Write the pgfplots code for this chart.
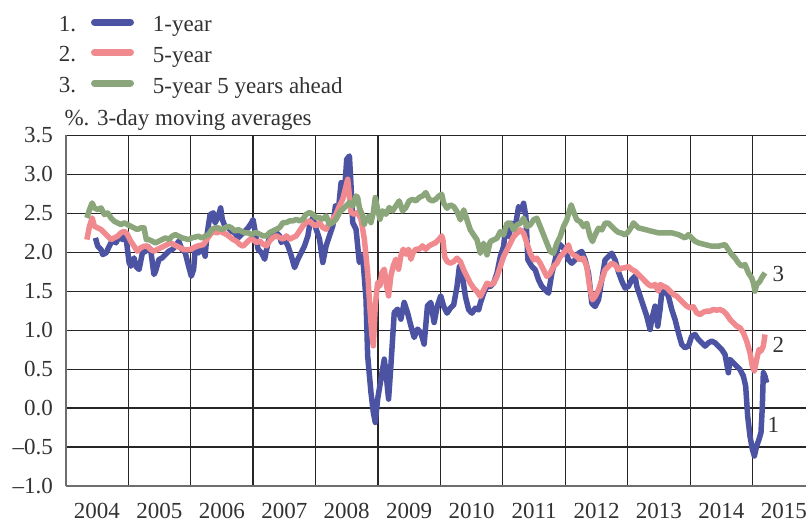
\documentclass[border=0pt]{standalone}
\usepackage{fontspec}
\setmainfont{Liberation Serif}
\usepackage{pgfplots}
\pgfplotsset{compat=1.18}
\definecolor{cblue}{RGB}{75,83,162}
\definecolor{cpink}{RGB}{240,138,143}
\definecolor{cgreen}{RGB}{139,166,122}
\definecolor{txt}{RGB}{50,50,50}
\definecolor{axg}{RGB}{110,110,110}
\pgfplotsset{
 leg1/.style={legend image code/.code={\node[anchor=base east,inner sep=0pt,text=txt] at (-12pt,-5pt) {1.}; \draw[cblue,line width=7pt,line cap=round] (3.5pt,4pt) -- (39.5pt,4pt);}},
 leg2/.style={legend image code/.code={\node[anchor=base east,inner sep=0pt,text=txt] at (-12pt,-5pt) {2.}; \draw[cpink,line width=7pt,line cap=round] (3.5pt,4pt) -- (39.5pt,4pt);}},
 leg3/.style={legend image code/.code={\node[anchor=base east,inner sep=0pt,text=txt] at (-12pt,-5pt) {3.}; \draw[cgreen,line width=7pt,line cap=round] (3.5pt,4pt) -- (39.5pt,4pt);}},
}
\begin{document}
\fontsize{23}{27}\selectfont
\begin{tikzpicture}
\path[use as bounding box] (0pt,0pt) rectangle (806pt,523pt);
\begin{axis}[
 name=ax,
 at={(65.7pt,37pt)}, anchor=south west,
 scale only axis, width=740.3pt, height=350.7pt,
 xmin=2004, xmax=2015.854, ymin=-1, ymax=3.5,
 axis x line*=bottom, axis y line*=left,
 axis line style={draw=axg, line width=2pt, -},
 xtick={2004.5,2005.5,2006.5,2007.5,2008.5,2009.5,2010.5,2011.5,2012.5,2013.5,2014.5,2015.5},
 xticklabels={2004,2005,2006,2007,2008,2009,2010,2011,2012,2013,2014,2015},
 minor xtick={2004,2005,2006,2007,2008,2009,2010,2011,2012,2013,2014,2015},
 xmajorgrids=false, xminorgrids=true,
 ytick={-1,-0.5,0,0.5,1,1.5,2,2.5,3,3.5},
 yticklabels={–1.0,–0.5,0.0,0.5,1.0,1.5,2.0,2.5,3.0,3.5},
 ymajorgrids=true,
 major tick length=0pt, minor tick length=0pt,
 grid style={draw=black!85, line width=1.2pt},
 minor grid style={draw=black!85, line width=1.2pt},
 xticklabel style={inner sep=0pt, anchor=north, yshift=-17pt, text=txt},
 yticklabel style={inner sep=0pt, anchor=east, xshift=-12.7pt, text=txt},
 legend style={at={(axis description cs:-0.0134,1.350)}, anchor=north west, draw=none, fill=none, text=txt,
   row sep=7.7pt, /tikz/every odd column/.append style={column sep=17pt}},
 legend cell align=left,
 clip=true,
]
\addplot[cblue, line width=5.5pt, line join=round, leg1] coordinates {
(2004.476,2.184)(2004.513,2.077)(2004.566,2.034)(2004.593,1.970)(2004.646,1.991)(2004.698,2.077)
(2004.751,2.162)(2004.804,2.120)(2004.857,2.205)(2004.910,2.162)(2004.963,2.226)(2004.989,2.034)
(2005.016,1.863)(2005.042,1.821)(2005.095,1.927)(2005.122,1.821)(2005.175,1.778)(2005.228,1.991)
(2005.280,2.013)(2005.307,2.077)(2005.360,2.034)(2005.413,1.714)(2005.439,1.756)(2005.492,1.906)
(2005.545,1.927)(2005.598,1.970)(2005.651,2.013)(2005.704,2.034)(2005.757,2.077)(2005.810,2.141)
(2005.862,2.034)(2005.915,1.991)(2005.968,1.821)(2006.011,1.692)(2006.048,1.778)(2006.074,2.034)
(2006.127,1.991)(2006.180,2.077)(2006.233,1.949)(2006.259,2.205)(2006.312,2.483)(2006.365,2.504)
(2006.392,2.376)(2006.444,2.462)(2006.481,2.568)(2006.508,2.419)(2006.550,2.333)(2006.603,2.312)
(2006.656,2.269)(2006.709,2.248)(2006.762,2.184)(2006.815,2.226)(2006.868,2.269)(2006.921,2.312)
(2006.974,2.376)(2007.000,2.419)(2007.027,2.295)(2007.080,2.038)(2007.133,1.996)(2007.186,1.910)
(2007.239,2.124)(2007.293,2.252)(2007.346,2.274)(2007.426,2.209)(2007.452,2.124)(2007.505,2.167)
(2007.559,2.081)(2007.612,1.953)(2007.665,1.803)(2007.718,1.910)(2007.771,1.996)(2007.824,2.081)
(2007.878,2.209)(2007.904,2.338)(2007.957,2.444)(2008.011,2.295)(2008.064,2.167)(2008.117,1.868)
(2008.170,2.081)(2008.223,2.209)(2008.277,2.338)(2008.319,2.594)(2008.356,2.466)(2008.410,2.893)
(2008.463,2.765)(2008.500,3.192)(2008.543,3.235)(2008.569,2.850)(2008.596,2.380)(2008.649,2.295)
(2008.702,1.868)(2008.755,1.953)(2008.809,1.397)(2008.835,0.671)(2008.888,0.201)(2008.926,-0.056)
(2008.957,-0.184)(2008.995,0.115)(2009.048,0.372)(2009.101,0.628)(2009.128,0.457)(2009.170,0.115)
(2009.207,0.543)(2009.261,1.226)(2009.314,1.269)(2009.367,1.141)(2009.420,1.355)(2009.473,1.226)
(2009.527,1.056)(2009.580,0.906)(2009.633,1.013)(2009.686,0.970)(2009.739,0.821)(2009.793,1.312)
(2009.846,1.355)(2009.899,1.098)(2009.952,1.312)(2010.005,1.440)(2010.053,1.303)(2010.107,1.218)
(2010.160,1.282)(2010.213,1.325)(2010.266,1.560)(2010.304,1.816)(2010.346,1.731)(2010.400,1.432)
(2010.453,1.261)(2010.506,1.218)(2010.559,1.282)(2010.613,1.261)(2010.639,1.346)(2010.693,1.474)
(2010.746,1.560)(2010.799,1.560)(2010.852,1.603)(2010.906,1.731)(2010.959,1.944)(2011.012,2.073)
(2011.039,2.286)(2011.092,2.201)(2011.145,2.372)(2011.199,2.329)(2011.252,2.585)(2011.295,2.543)
(2011.332,2.628)(2011.369,2.457)(2011.401,1.902)(2011.465,1.816)(2011.518,1.774)(2011.572,1.645)
(2011.625,1.560)(2011.678,1.517)(2011.731,1.474)(2011.785,1.731)(2011.838,1.902)(2011.891,2.115)
(2011.945,2.073)(2011.998,2.030)(2012.051,1.902)(2012.104,1.859)(2012.158,1.902)(2012.211,1.987)
(2012.264,2.009)(2012.318,1.902)(2012.371,1.731)(2012.424,1.346)(2012.477,1.303)(2012.531,1.389)
(2012.584,1.645)(2012.637,1.902)(2012.690,1.944)(2012.744,1.987)(2012.797,1.902)(2012.850,1.750)
(2012.904,1.630)(2012.957,1.540)(2013.010,1.560)(2013.064,1.650)(2013.117,1.692)(2013.144,1.564)
(2013.197,1.436)(2013.251,1.308)(2013.304,1.179)(2013.357,1.009)(2013.384,1.137)(2013.437,1.308)
(2013.480,1.051)(2013.517,1.265)(2013.544,1.479)(2013.597,1.500)(2013.651,1.436)(2013.704,1.265)
(2013.757,1.137)(2013.811,0.966)(2013.864,0.816)(2013.917,0.774)(2013.971,0.795)(2014.024,0.923)
(2014.077,0.944)(2014.131,0.880)(2014.184,0.838)(2014.237,0.795)(2014.291,0.838)(2014.344,0.859)
(2014.397,0.838)(2014.451,0.795)(2014.504,0.752)(2014.557,0.688)(2014.611,0.453)(2014.637,0.624)
(2014.691,0.581)(2014.744,0.538)(2014.797,0.496)(2014.851,0.410)(2014.888,0.282)(2014.920,-0.103)
(2014.957,-0.359)(2014.995,-0.530)(2015.027,-0.615)(2015.064,-0.487)(2015.101,-0.402)(2015.133,-0.316)
(2015.155,0.026)(2015.171,0.453)(2015.197,0.410)(2015.224,0.325)
};
\addplot[cpink, line width=5.5pt, line join=round, leg2] coordinates {
(2004.339,2.162)(2004.381,2.333)(2004.423,2.440)(2004.460,2.333)(2004.513,2.312)(2004.566,2.291)
(2004.619,2.248)(2004.672,2.205)(2004.725,2.162)(2004.778,2.184)(2004.831,2.205)(2004.884,2.248)
(2004.937,2.269)(2004.989,2.226)(2005.042,2.141)(2005.095,2.077)(2005.148,2.013)(2005.201,2.056)
(2005.254,2.077)(2005.307,2.077)(2005.360,2.034)(2005.413,2.013)(2005.466,2.034)(2005.519,2.056)
(2005.571,2.077)(2005.624,2.098)(2005.677,2.120)(2005.730,2.098)(2005.783,2.077)(2005.836,2.056)
(2005.889,2.034)(2005.995,2.034)(2006.048,2.056)(2006.101,2.077)(2006.206,2.098)(2006.259,2.162)
(2006.312,2.226)(2006.365,2.269)(2006.418,2.248)(2006.471,2.269)(2006.577,2.226)(2006.683,2.162)
(2006.735,2.141)(2006.788,2.098)(2006.841,2.077)(2006.894,2.120)(2006.947,2.162)(2007.000,2.162)
(2007.053,2.124)(2007.106,2.145)(2007.160,2.103)(2007.213,2.081)(2007.266,2.145)(2007.319,2.188)
(2007.372,2.209)(2007.426,2.188)(2007.479,2.167)(2007.532,2.209)(2007.585,2.167)(2007.638,2.188)
(2007.691,2.209)(2007.745,2.274)(2007.798,2.338)(2007.851,2.380)(2007.904,2.402)(2007.957,2.359)
(2008.011,2.338)(2008.064,2.380)(2008.117,2.316)(2008.170,2.295)(2008.223,2.380)(2008.277,2.423)
(2008.330,2.487)(2008.383,2.594)(2008.436,2.679)(2008.489,2.850)(2008.516,2.936)(2008.543,2.722)
(2008.569,2.509)(2008.622,2.487)(2008.676,2.509)(2008.729,2.423)(2008.782,2.167)(2008.835,1.739)
(2008.872,1.269)(2008.904,0.927)(2008.926,0.799)(2008.957,1.312)(2008.995,1.611)(2009.032,1.568)
(2009.064,1.739)(2009.101,1.782)(2009.138,1.568)(2009.170,1.440)(2009.207,1.697)(2009.245,1.825)
(2009.287,1.910)(2009.330,1.782)(2009.367,1.953)(2009.404,2.038)(2009.447,1.974)(2009.489,2.038)
(2009.527,1.910)(2009.564,1.996)(2009.606,2.038)(2009.660,2.038)(2009.713,2.081)(2009.766,2.038)
(2009.819,2.081)(2009.872,2.103)(2009.926,2.124)(2009.979,2.167)(2010.021,2.209)(2010.040,2.160)
(2010.069,1.940)(2010.107,1.880)(2010.160,1.859)(2010.213,1.880)(2010.266,1.923)(2010.320,1.880)
(2010.373,1.774)(2010.426,1.688)(2010.479,1.603)(2010.533,1.538)(2010.586,1.496)(2010.639,1.432)
(2010.693,1.517)(2010.746,1.603)(2010.799,1.581)(2010.852,1.603)(2010.906,1.688)(2010.959,1.816)
(2011.012,1.944)(2011.066,2.030)(2011.119,2.115)(2011.172,2.201)(2011.225,2.244)(2011.279,2.286)
(2011.332,2.244)(2011.385,2.115)(2011.438,1.987)(2011.492,1.902)(2011.545,1.923)(2011.598,1.859)
(2011.652,1.774)(2011.705,1.688)(2011.758,1.731)(2011.811,1.816)(2011.865,1.859)(2011.918,1.944)
(2011.971,1.987)(2012.024,2.051)(2012.051,2.094)(2012.078,2.009)(2012.131,1.966)(2012.184,1.944)
(2012.238,1.902)(2012.291,1.923)(2012.344,1.816)(2012.397,1.517)(2012.435,1.389)(2012.477,1.432)
(2012.531,1.517)(2012.584,1.645)(2012.637,1.774)(2012.690,1.816)(2012.744,1.859)(2012.797,1.838)
(2012.850,1.774)(2012.904,1.795)(2012.957,1.800)(2013.010,1.816)(2013.064,1.778)(2013.117,1.756)
(2013.171,1.714)(2013.224,1.671)(2013.277,1.628)(2013.331,1.585)(2013.384,1.564)(2013.437,1.585)
(2013.491,1.500)(2013.517,1.585)(2013.571,1.564)(2013.624,1.543)(2013.677,1.500)(2013.731,1.457)
(2013.784,1.436)(2013.837,1.393)(2013.891,1.350)(2013.944,1.308)(2013.997,1.286)(2014.051,1.299)
(2014.104,1.222)(2014.157,1.201)(2014.211,1.231)(2014.264,1.244)(2014.317,1.244)(2014.371,1.265)
(2014.424,1.256)(2014.477,1.265)(2014.531,1.244)(2014.584,1.201)(2014.637,1.137)(2014.691,1.094)
(2014.744,1.051)(2014.797,1.030)(2014.851,0.966)(2014.904,0.859)(2014.957,0.709)(2014.995,0.538)
(2015.027,0.474)(2015.064,0.624)(2015.101,0.752)(2015.133,0.731)(2015.171,0.795)(2015.197,0.944)
};
\addplot[cgreen, line width=5.5pt, line join=round, leg3] coordinates {
(2004.339,2.440)(2004.381,2.547)(2004.423,2.632)(2004.460,2.568)(2004.513,2.547)(2004.566,2.568)
(2004.619,2.483)(2004.672,2.504)(2004.725,2.440)(2004.778,2.397)(2004.831,2.376)(2004.884,2.355)
(2004.937,2.376)(2004.989,2.355)(2005.042,2.333)(2005.095,2.312)(2005.148,2.291)(2005.201,2.312)
(2005.254,2.312)(2005.291,2.162)(2005.333,2.162)(2005.386,2.141)(2005.439,2.120)(2005.492,2.141)
(2005.545,2.162)(2005.598,2.184)(2005.651,2.162)(2005.704,2.205)(2005.757,2.226)(2005.810,2.205)
(2005.862,2.184)(2005.968,2.162)(2006.021,2.184)(2006.127,2.205)(2006.180,2.184)(2006.233,2.205)
(2006.286,2.226)(2006.339,2.291)(2006.392,2.312)(2006.444,2.312)(2006.497,2.291)(2006.550,2.312)
(2006.603,2.333)(2006.656,2.312)(2006.709,2.269)(2006.762,2.291)(2006.815,2.269)(2006.868,2.248)
(2006.921,2.248)(2006.974,2.226)(2007.026,2.248)(2007.053,2.252)(2007.106,2.231)(2007.160,2.209)
(2007.213,2.209)(2007.266,2.252)(2007.319,2.274)(2007.372,2.295)(2007.426,2.316)(2007.479,2.380)
(2007.532,2.380)(2007.585,2.402)(2007.638,2.402)(2007.691,2.423)(2007.745,2.402)(2007.798,2.423)
(2007.851,2.487)(2007.904,2.509)(2007.957,2.487)(2008.011,2.444)(2008.064,2.444)(2008.117,2.423)
(2008.170,2.466)(2008.223,2.359)(2008.277,2.380)(2008.330,2.423)(2008.383,2.509)(2008.436,2.551)
(2008.489,2.594)(2008.543,2.637)(2008.596,2.594)(2008.649,2.722)(2008.676,2.701)(2008.702,2.573)
(2008.755,2.466)(2008.782,2.359)(2008.809,2.423)(2008.862,2.466)(2008.888,2.380)(2008.926,2.509)
(2008.957,2.701)(2008.995,2.551)(2009.032,2.423)(2009.074,2.530)(2009.128,2.487)(2009.181,2.573)
(2009.234,2.530)(2009.287,2.594)(2009.340,2.658)(2009.394,2.530)(2009.447,2.573)(2009.500,2.658)
(2009.553,2.679)(2009.606,2.658)(2009.660,2.701)(2009.713,2.722)(2009.766,2.765)(2009.819,2.679)
(2009.872,2.658)(2009.926,2.679)(2009.979,2.722)(2010.021,2.744)(2010.053,2.628)(2010.107,2.564)
(2010.160,2.607)(2010.213,2.585)(2010.266,2.521)(2010.320,2.415)(2010.373,2.543)(2010.426,2.415)
(2010.479,2.286)(2010.533,2.222)(2010.586,2.158)(2010.639,1.987)(2010.693,2.115)(2010.746,1.966)
(2010.799,2.137)(2010.852,2.158)(2010.906,2.179)(2010.959,2.265)(2011.012,2.222)(2011.066,2.372)
(2011.119,2.372)(2011.172,2.286)(2011.225,2.350)(2011.279,2.372)(2011.332,2.436)(2011.385,2.329)
(2011.438,2.350)(2011.492,2.415)(2011.545,2.436)(2011.598,2.329)(2011.652,2.222)(2011.705,2.115)
(2011.758,2.009)(2011.811,1.987)(2011.865,2.115)(2011.918,2.201)(2011.971,2.329)(2012.024,2.415)
(2012.062,2.521)(2012.094,2.607)(2012.131,2.521)(2012.184,2.415)(2012.238,2.393)(2012.291,2.329)
(2012.344,2.372)(2012.397,2.201)(2012.435,2.137)(2012.477,2.222)(2012.531,2.308)(2012.584,2.286)
(2012.637,2.372)(2012.690,2.372)(2012.744,2.329)(2012.797,2.286)(2012.850,2.255)(2012.904,2.244)
(2012.957,2.222)(2013.010,2.265)(2013.063,2.329)(2013.091,2.376)(2013.171,2.312)(2013.277,2.291)
(2013.384,2.269)(2013.491,2.248)(2013.597,2.248)(2013.704,2.248)(2013.811,2.226)(2013.917,2.184)
(2013.971,2.226)(2014.024,2.184)(2014.077,2.141)(2014.131,2.120)(2014.237,2.098)(2014.344,2.077)
(2014.451,2.077)(2014.557,2.098)(2014.611,2.034)(2014.664,1.970)(2014.717,1.927)(2014.771,1.863)
(2014.824,1.821)(2014.877,1.842)(2014.931,1.735)(2014.984,1.671)(2015.011,1.607)(2015.037,1.500)
(2015.064,1.585)(2015.091,1.607)(2015.117,1.628)(2015.144,1.671)(2015.197,1.735)
};
\legend{1-year,5-year,5-year 5 years ahead}
\node[anchor=center, inner sep=0pt, text=txt] at (axis cs:2015.41,1.72) {3};
\node[anchor=center, inner sep=0pt, text=txt] at (axis cs:2015.41,0.81) {2};
\node[anchor=center, inner sep=0pt, text=txt] at (axis cs:2015.33,-0.21) {1};
\end{axis}
\node[anchor=base west, inner sep=0pt, text=txt] at ([xshift=-1.4pt,yshift=10.3pt]ax.north west) {\%. 3-day moving averages};
\end{tikzpicture}
\end{document}
